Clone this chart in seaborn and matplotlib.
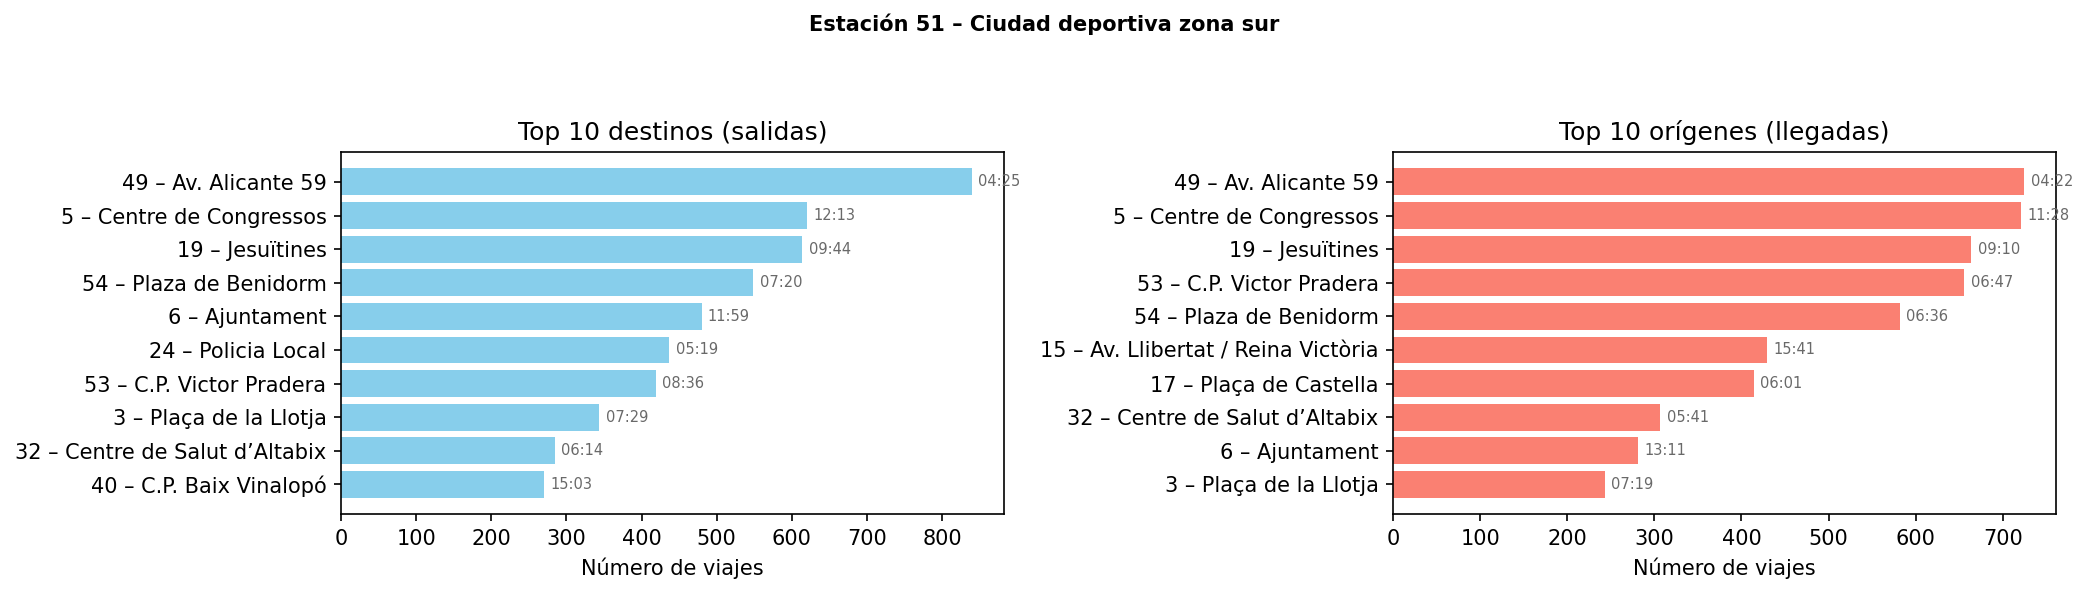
import matplotlib
matplotlib.use("Agg")
import matplotlib.pyplot as plt
import seaborn as sns
import pandas as pd

plt.rcParams['font.family'] = ['DejaVu Sans']

# ---- data ----
suptitle = "Estación 51 – Ciudad deportiva zona sur"

dest_names = [
    "49 – Av. Alicante 59",
    "5 – Centre de Congressos",
    "19 – Jesuïtines",
    "54 – Plaza de Benidorm",
    "6 – Ajuntament",
    "24 – Policia Local",
    "53 – C.P. Victor Pradera",
    "3 – Plaça de la Llotja",
    "32 – Centre de Salut d’Altabix",
    "40 – C.P. Baix Vinalopó",
]
dest_values = [840, 620, 614, 549, 480, 437, 419, 344, 285, 270]
dest_times = ["04:25", "12:13", "09:44", "07:20", "11:59", "05:19", "08:36", "07:29", "06:14", "15:03"]

orig_names = [
    "49 – Av. Alicante 59",
    "5 – Centre de Congressos",
    "19 – Jesuïtines",
    "53 – C.P. Victor Pradera",
    "54 – Plaza de Benidorm",
    "15 – Av. Llibertat / Reina Victòria",
    "17 – Plaça de Castella",
    "32 – Centre de Salut d’Altabix",
    "6 – Ajuntament",
    "3 – Plaça de la Llotja",
]
orig_values = [725, 721, 664, 656, 582, 429, 414, 307, 281, 243]
orig_times = ["04:22", "11:28", "09:10", "06:47", "06:36", "15:41", "06:01", "05:41", "13:11", "07:19"]

titles = ["Top 10 destinos (salidas)", "Top 10 orígenes (llegadas)"]
colors = ["skyblue", "salmon"]
xlabel = "Número de viajes"

# ---- figure ----
W, H, DPI = 2088, 594, 150
fig = plt.figure(figsize=(W / DPI, H / DPI), dpi=DPI)
ax_left = fig.add_axes([0.1633, 0.1342, 0.3174, 0.6099])
ax_right = fig.add_axes([0.6672, 0.1342, 0.3175, 0.6099])

panels = [
    (ax_left, dest_names, dest_values, dest_times),
    (ax_right, orig_names, orig_values, orig_times),
]

for i, (ax, names, vals, times) in enumerate(panels):
    df = pd.DataFrame({"name": names, "value": vals})
    sns.barplot(data=df, x="value", y="name", orient="h", color=colors[i],
                saturation=1, width=0.8, ax=ax, errorbar=None)
    n = len(names)
    # matplotlib-like margins around bars
    span = (n - 1) + 0.8
    m = 0.05 * span
    ax.set_ylim(n - 1 + 0.4 + m, -0.4 - m)
    ax.set_xlim(0, max(vals) * 1.05)
    for j, (v, t) in enumerate(zip(vals, times)):
        ax.annotate(t, xy=(v, j), xytext=(3, 0), textcoords="offset points",
                    va="center", ha="left", fontsize=7, color="dimgray")
    ax.set_title(titles[i], fontsize=12)
    ax.set_xlabel(xlabel, fontsize=10)
    ax.set_ylabel("")
    ax.tick_params(labelsize=10)
    for s in ax.spines.values():
        s.set_visible(True)

fig.suptitle(suptitle, fontsize=10, fontweight="bold", y=0.96, va="center")

fig.savefig("out.png", dpi=DPI)
